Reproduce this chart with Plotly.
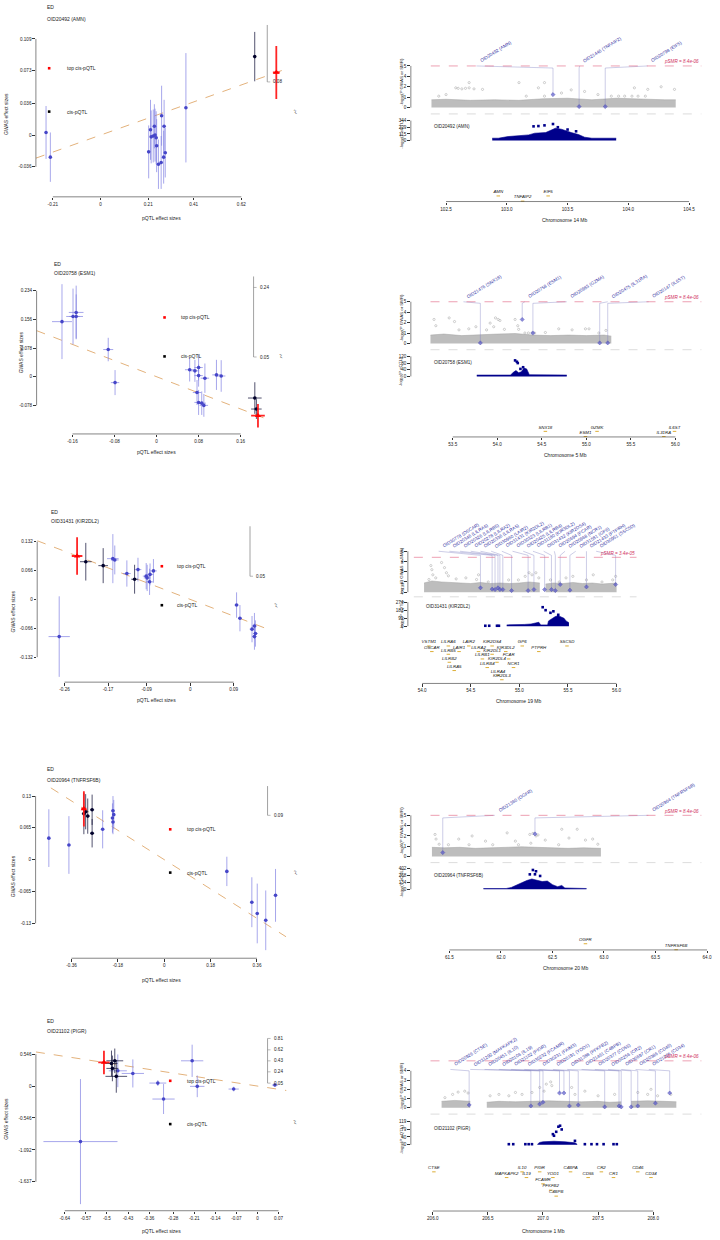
import plotly.graph_objects as go

# ---------------- left column: pQTL vs GWAS effect sizes ----------------
# kind: b = cis-pQTL (blue), k = cis-pQTL (black), r = top cis-pQTL
r1_oid = "OID20492 (AMN)"
r1_bzx = [-0.240, -0.221, 0.212, 0.220, 0.223, 0.232, 0.237, 0.240, 0.245, 0.247, 0.255, 0.267, 0.269, 0.278, 0.280, 0.285, 0.376, 0.679, 0.774]
r1_bzy = [0.003, -0.025, -0.019, 0.006, -0.002, -0.001, 0.010, 0.000, -0.003, -0.012, -0.033, -0.031, 0.022, -0.025, 0.010, -0.020, 0.031, 0.089, 0.071]
r1_sex = [0.004, 0.004, 0.004, 0.004, 0.004, 0.004, 0.004, 0.004, 0.004, 0.004, 0.004, 0.004, 0.004, 0.004, 0.004, 0.004, 0.004, 0.005, 0.015]
r1_sey = [0.030, 0.028, 0.030, 0.034, 0.030, 0.030, 0.025, 0.030, 0.030, 0.030, 0.028, 0.030, 0.034, 0.030, 0.030, 0.028, 0.062, 0.028, 0.030]
r1_kind = "bbbbbbbbbbbbbbbbbkr"
r1_xt = [-0.21, 0, 0.21, 0.41, 0.62]
r1_yt = [-0.036, 0, 0.036, 0.073, 0.109]
r1_r2 = ["0.08"]

r2_oid = "OID20758 (ESM1)"
r2_bzx = [-0.180, -0.159, -0.153, -0.153, -0.092, -0.079, 0.063, 0.073, 0.080, 0.080, 0.092, 0.114, 0.123, 0.077, 0.080, 0.086, 0.090, 0.187, 0.190, 0.193]
r2_bzy = [0.150, 0.164, 0.175, 0.164, 0.074, -0.016, 0.019, 0.016, 0.025, 0.003, -0.004, 0.005, 0.002, -0.043, -0.070, -0.072, -0.078, -0.058, -0.088, -0.106]
r2_sex = [0.019, 0.013, 0.014, 0.013, 0.0095, 0.008, 0.009, 0.008, 0.008, 0.008, 0.008, 0.008, 0.008, 0.008, 0.008, 0.008, 0.008, 0.013, 0.010, 0.013]
r2_sey = [0.102, 0.076, 0.073, 0.060, 0.032, 0.034, 0.032, 0.030, 0.035, 0.030, 0.040, 0.041, 0.043, 0.034, 0.034, 0.032, 0.031, 0.043, 0.027, 0.032]
r2_kind = "bbbbbbbbbbbbbbbbbkkr"
r2_xt = [-0.16, -0.08, 0, 0.08, 0.16]
r2_yt = [-0.078, 0, 0.078, 0.156, 0.234]
r2_r2 = ["0.24", "0.05"]

r3_oid = "OID31431 (KIR2DL2)"
r3_bzx = [-0.234, -0.216, -0.180, -0.160, -0.156, -0.131, -0.115, -0.108, -0.091, -0.089, -0.084, -0.083, -0.076, -0.271, 0.096, 0.103, 0.128, 0.133, 0.135, 0.133]
r3_bzy = [0.099, 0.086, 0.077, 0.093, 0.090, 0.059, 0.046, 0.068, 0.053, 0.049, 0.040, 0.057, 0.065, -0.085, -0.013, -0.043, -0.068, -0.061, -0.078, -0.085]
r3_sex = [0.011, 0.012, 0.010, 0.012, 0.008, 0.008, 0.007, 0.007, 0.007, 0.007, 0.007, 0.007, 0.007, 0.022, 0.004, 0.004, 0.005, 0.005, 0.005, 0.005]
r3_sey = [0.043, 0.043, 0.040, 0.056, 0.033, 0.030, 0.033, 0.027, 0.030, 0.030, 0.030, 0.025, 0.027, 0.092, 0.029, 0.030, 0.030, 0.030, 0.030, 0.030]
r3_kind = "rkkbbbkbbbbbbbbbbbbb"
r3_xt = [-0.26, -0.17, -0.09, 0, 0.09]
r3_yt = [-0.132, -0.066, 0, 0.066, 0.132]
r3_r2 = ["0.05"]

r4_oid = "OID20964 (TNFRSF6B)"
r4_bzx = [-0.448, -0.370, -0.312, -0.312, -0.305, -0.297, -0.280, -0.280, -0.239, -0.199, -0.201, -0.196, -0.199, 0.243, 0.340, 0.361, 0.394, 0.432]
r4_bzy = [0.044, 0.030, 0.104, 0.094, 0.098, 0.089, 0.102, 0.054, 0.062, 0.100, 0.085, 0.092, 0.077, -0.024, -0.087, -0.110, -0.124, -0.073]
r4_sex = [0.006, 0.006, 0.010, 0.008, 0.008, 0.008, 0.008, 0.008, 0.006, 0.006, 0.006, 0.006, 0.006, 0.006, 0.006, 0.006, 0.006, 0.006]
r4_sey = [0.059, 0.059, 0.036, 0.042, 0.036, 0.036, 0.031, 0.029, 0.039, 0.030, 0.030, 0.030, 0.025, 0.030, 0.051, 0.061, 0.061, 0.054]
r4_kind = "bbrkkkkkbbbbbbbbbb"
r4_xt = [-0.36, -0.18, 0, 0.18, 0.36]
r4_yt = [-0.13, -0.065, 0, 0.065, 0.13]
r4_r2 = ["0.09"]

r5_oid = "OID21102 (PIGR)"
r5_bzx = [-0.510, -0.485, -0.474, -0.482, -0.469, -0.464, -0.414, -0.588, -0.331, -0.312, -0.217, -0.200, -0.079, 0.058]
r5_bzy = [0.404, 0.387, 0.432, 0.302, 0.166, 0.261, 0.216, -0.950, 0.051, -0.222, 0.432, -0.005, -0.051, 0.017]
r5_sex = [0.019, 0.020, 0.028, 0.020, 0.036, 0.030, 0.037, 0.123, 0.028, 0.037, 0.037, 0.024, 0.017, 0.010]
r5_sey = [0.200, 0.220, 0.210, 0.220, 0.280, 0.280, 0.240, 1.070, 0.050, 0.256, 0.276, 0.185, 0.040, 0.030]
r5_kind = "rkkkkbbbbbbbbb"
r5_xt = [-0.64, -0.57, -0.5, -0.43, -0.36, -0.28, -0.21, -0.14, -0.07, 0, 0.07]
r5_yt = [-1.637, -1.092, -0.546, 0, 0.546]
r5_r2 = ["0.81", "0.62", "0.43", "0.24", "0.05"]

# ---------------- right column: locus plots ----------------
r1_chrom = "Chromosome 14 Mb"
r1_mb = [102.5, 103.0, 103.5, 104.0, 104.5]
r1_toplab = ["0", "1", "2", "4", "5"]
r1_thr = 4.0
r1_psmr = "pSMR = 8.4e-06"
r1_band_x = [102.38, 102.5, 102.7, 102.9, 103.1, 103.3, 103.5, 103.7, 103.9, 104.1, 104.3, 104.39]
r1_band_y = [0.75, 0.8, 0.7, 0.75, 0.7, 0.85, 0.9, 0.75, 0.9, 0.8, 0.75, 0.75]
r1_gw_x = [102.44, 102.5, 102.58, 102.6, 102.63, 102.66, 102.69, 102.69, 102.73, 102.8, 103.1, 103.16, 103.26, 103.31, 103.31, 103.45, 103.53, 103.64, 103.75, 103.86, 103.92, 103.97, 104.03, 104.05, 104.08, 104.14, 104.16, 104.27, 104.38]
r1_gw_y = [1.1, 1.25, 1.9, 1.85, 1.8, 1.85, 1.9, 2.4, 1.8, 1.75, 2.4, 1.1, 1.9, 1.1, 2.4, 1.4, 1.7, 1.55, 1.25, 1.1, 1.1, 1.1, 1.1, 1.9, 1.1, 1.1, 1.75, 2.0, 1.75]
r1_probes = ["OID20492 (AMN)", "OID21446 (TNFAIP2)", "OID20798 (EIF5)"]
r1_probe_bp = [103.38, 103.595, 103.81]
r1_probe_y = [1.25, 0.1, 0.1]
r1_label_bp = [102.75, 103.60, 104.16]
r1_eq_ticks = [0, 115, 229, 344]
r1_eq_x = [102.88, 102.93, 103.01, 103.10, 103.18, 103.23, 103.32, 103.40, 103.45, 103.53, 103.59, 103.64, 103.70, 103.90]
r1_eq_y = [41, 41, 69, 80, 98, 127, 138, 213, 195, 138, 104, 58, 41, 41]
r1_eqp_x = [103.22, 103.26, 103.31, 103.38, 103.42, 103.50, 103.57]
r1_eqp_y = [245, 250, 262, 285, 230, 190, 160]
r1_genes = ["AMN", "TNFAIP2", "EIF5"]
r1_gene_bp = [102.93, 103.13, 103.34]

r2_chrom = "Chromosome 5 Mb"
r2_mb = [53.5, 54.0, 54.5, 55.0, 55.5, 56.0]
r2_toplab = ["0", "1", "2", "4", "5"]
r2_thr = 4.0
r2_psmr = "pSMR = 8.4e-06"
r2_band_x = [53.25, 53.4, 53.6, 53.8, 54.0, 54.2, 54.4, 54.6, 54.8, 55.0, 55.2, 55.28]
r2_band_y = [0.8, 0.9, 0.75, 0.85, 0.9, 0.95, 0.8, 0.75, 0.8, 0.75, 0.8, 0.7]
r2_gw_x = [53.29, 53.31, 53.46, 53.52, 53.57, 53.68, 53.76, 53.88, 53.92, 53.96, 53.98, 54.01, 54.03, 54.08, 54.20, 54.23, 54.24, 54.31, 54.35, 54.39, 54.42, 54.54, 54.69, 54.84, 54.99, 55.03, 55.14, 55.22]
r2_gw_y = [2.3, 1.7, 2.45, 2.1, 1.3, 1.4, 1.6, 1.3, 1.95, 1.6, 2.45, 2.3, 2.2, 1.35, 2.3, 1.7, 1.35, 1.0, 1.0, 1.0, 1.0, 1.05, 1.4, 1.3, 1.4, 1.4, 1.0, 1.25]
r2_probes = ["OID21476 (SNX18)", "OID20758 (ESM1)", "OID20983 (GZMA)", "OID20475 (IL31RA)", "OID20147 (IL6ST)"]
r2_probe_bp = [53.81, 54.28, 54.40, 55.15, 55.24]
r2_probe_y = [0.05, 2.3, 1.0, 0.05, 0.05]
r2_label_bp = [53.62, 54.31, 54.78, 55.24, 55.70]
r2_eq_ticks = [0, 40, 80, 120]
r2_eq_x = [53.77, 54.15, 54.18, 54.21, 54.24, 54.27, 54.30, 54.33, 54.36, 54.78]
r2_eq_y = [8, 8, 25, 35, 22, 28, 50, 45, 10, 8]
r2_eqp_x = [54.20, 54.22, 54.23, 54.26, 54.29]
r2_eqp_y = [96, 88, 80, 45, 55]
r2_genes = ["SNX18", "ESM1", "GZMK", "IL31RA", "IL6ST"]
r2_gene_bp = [54.54, 54.99, 55.12, 55.87, 55.99]

r3_chrom = "Chromosome 19 Mb"
r3_mb = [54.0, 54.5, 55.0, 55.5, 56.0]
r3_toplab = ["0", "2", "3", "4", "6"]
r3_thr = 3.41
r3_psmr = "pSMR = 3.4e-05"
r3_band_x = [54.02, 54.1, 54.2, 54.3, 54.4, 54.5, 54.6, 54.7, 54.8, 54.9, 55.0, 55.1, 55.21, None, 55.27, 55.35, 55.45, 55.55, 55.65, 55.75, 55.85, 55.95, 56.0]
r3_band_y = [0.9, 1.1, 1.0, 0.95, 0.9, 0.85, 0.95, 0.85, 0.9, 0.85, 0.9, 1.0, 0.9, None, 0.8, 0.9, 0.85, 0.95, 0.85, 0.9, 0.8, 0.9, 0.9]
r3_gw_x = [54.07, 54.09, 54.10, 54.11, 54.14, 54.20, 54.23, 54.25, 54.27, 54.35, 54.45, 54.56, 54.58, 54.68, 54.89, 54.99, 55.06, 55.10, 55.13, 55.17, 55.20, 55.32, 55.41, 55.48, 55.55, 55.69, 55.76, 55.85, 55.96, 55.99]
r3_gw_y = [1.24, 2.6, 2.2, 1.7, 1.4, 2.9, 2.4, 1.9, 1.6, 1.3, 1.4, 1.24, 1.7, 1.0, 1.2, 1.2, 1.55, 1.9, 1.7, 1.9, 1.4, 1.2, 1.0, 1.4, 1.55, 1.2, 1.7, 1.0, 1.2, 1.55]
r3_probes = ["OID30778 (OSCAR)", "OID20346 (LILRA6)", "OID20326 (LILRB5)", "OID20278 (LILRA2)", "OID20336 (LILRA5)", "OID30960 (LAIR2)", "OID31431 (KIR2DL2)", "OID30323 (LILRB1)", "OID20425 (LILRB4)", "OID31180 (KIR3DL2)", "OID31432 (KIR2DS4)", "OID20694 (FCAR)", "OID20968 (NCR1)", "OID31581 (GP6)", "OID21433 (PTPRH)", "OID30951 (SSC5D)"]
r3_probe_bp = [54.60, 54.72, 54.75, 54.78, 54.80, 54.83, 54.92, 55.09, 55.15, 55.26, 55.33, 55.37, 55.42, 55.52, 55.69, 55.99]
r3_probe_y = [0.43, 0.3, 0.26, 0.43, 0.26, 0.26, 0.16, 0.16, 0.26, 0.26, 0.26, 0.16, 0.75, 0.2, 0.52, 0.75]
r3_label_bp = [54.17, 54.28, 54.39, 54.50, 54.60, 54.71, 54.82, 54.93, 55.04, 55.14, 55.25, 55.36, 55.47, 55.58, 55.69, 55.79]
r3_eq_ticks = [0, 91, 183, 274]
r3_eq_x = [54.87, 55.00, 55.05, 55.12, 55.17, 55.20, 55.22, 55.29, 55.30, 55.33, 55.37, 55.40, 55.43, 55.46, 55.48, 55.51]
r3_eq_y = [15, 15, 20, 25, 40, 45, 15, 15, 60, 80, 110, 120, 100, 90, 60, 40]
r3_eqp_x = [54.65, 54.69, 54.77, 54.79, 55.24, 55.27, 55.32, 55.35, 55.40]
r3_eqp_y = [5, 5, 5, 5, 217, 183, 153, 170, 130]
r3_genes = ["VSTM1", "OSCAR", "LILRA6", "LILRB5", "LAIR1", "LILRB2", "LILRA5", "LAIR2", "KIR2DS4", "LILRA2", "KIR3DL2", "KIR2DL1", "LILRB1", "KIR2DL4", "FCAR", "LILRB4", "NCR1", "LILRA4", "KIR2DL3", "GP6", "PTPRH", "SSC5D"]
r3_gene_bp = [54.07, 54.10, 54.27, 54.27, 54.38, 54.28, 54.33, 54.48, 54.72, 54.58, 54.86, 54.72, 54.62, 54.77, 54.89, 54.67, 54.94, 54.78, 54.82, 55.03, 55.20, 55.49]

r4_chrom = "Chromosome 20 Mb"
r4_mb = [61.5, 62.0, 62.5, 63.0, 63.5, 64.0]
r4_toplab = ["0", "1", "2", "4", "5"]
r4_thr = 4.0
r4_psmr = "pSMR = 8.4e-06"
r4_band_x = [61.33, 61.45, 61.6, 61.75, 61.9, 62.05, 62.2, 62.35, 62.5, 62.65, 62.8, 62.97]
r4_band_y = [0.9, 0.85, 0.9, 0.8, 0.85, 0.9, 0.95, 0.9, 0.85, 0.8, 0.85, 0.8]
r4_gw_x = [61.36, 61.37, 61.40, 61.49, 61.59, 61.69, 61.72, 61.85, 61.92, 62.06, 62.14, 62.17, 62.28, 62.29, 62.31, 62.34, 62.36, 62.43, 62.56, 62.59, 62.66, 62.74, 62.82, 62.89, 62.94]
r4_gw_y = [2.15, 1.7, 1.2, 1.15, 1.7, 1.15, 2.0, 1.5, 1.15, 2.3, 1.5, 1.15, 2.15, 1.3, 2.25, 2.0, 2.1, 1.6, 1.15, 2.65, 1.8, 2.65, 1.6, 1.7, 1.2]
r4_probes = ["OID21360 (OGFR)", "OID20964 (TNFRSF6B)"]
r4_probe_bp = [61.435, 62.33]
r4_probe_y = [0.39, 2.2]
r4_label_bp = [61.94, 63.43]
r4_eq_ticks = [0, 134, 268, 402]
r4_eq_x = [61.83, 62.05, 62.10, 62.15, 62.20, 62.25, 62.30, 62.35, 62.40, 62.45, 62.50, 62.55, 62.59, 62.62, 62.83]
r4_eq_y = [15, 15, 35, 80, 130, 170, 200, 180, 150, 160, 90, 50, 75, 25, 15]
r4_eqp_x = [62.28, 62.31, 62.33, 62.34, 62.38]
r4_eqp_y = [290, 375, 291, 350, 259]
r4_genes = ["OGFR", "TNFRSF6B"]
r4_gene_bp = [62.82, 63.70]

r5_chrom = "Chromosome 1 Mb"
r5_mb = [206.0, 206.5, 207.0, 207.5, 208.0]
r5_toplab = ["0", "1", "2", "3", "4"]
r5_thr = 5.08
r5_psmr = "pSMR = 8.4e-06"
r5_band_x = [206.08, 206.2, 206.34, None, 206.49, 206.6, 206.75, 206.9, 207.05, 207.2, 207.35, 207.5, 207.6, 207.71, None, 207.80, 207.95, 208.1, 208.21]
r5_band_y = [0.7, 0.8, 0.7, None, 0.6, 0.7, 0.65, 0.7, 0.75, 0.7, 0.65, 0.7, 0.6, 0.65, None, 0.7, 0.75, 0.7, 0.65]
r5_gw_x = [206.11, 206.18, 206.23, 206.29, 206.32, 206.52, 206.6, 206.69, 206.75, 206.81, 206.9, 206.97, 207.01, 207.03, 207.07, 207.08, 207.26, 207.29, 207.38, 207.5, 207.65, 207.86, 207.95, 207.98, 208.04, 208.16]
r5_gw_y = [1.1, 1.45, 1.7, 1.8, 1.6, 1.3, 1.45, 1.3, 1.66, 1.45, 1.66, 2.2, 1.8, 2.56, 2.8, 2.4, 2.2, 1.45, 1.8, 1.3, 1.45, 1.66, 1.45, 2.0, 1.3, 1.45]
r5_probes = ["OID20926 (CTSE)", "OID31292 (MAPKAPK2)", "OID20451 (IL10)", "OID20106 (IL19)", "OID21102 (PIGR)", "OID30232 (FCAMR)", "OID30231 (FAIM3)", "OID20191 (YOD1)", "OID31388 (PFKFB2)", "OID21461 (C4BPB)", "OID20377 (CD55)", "OID30256 (CR2)", "OID30697 (CR1)", "OID20386 (CD46)", "OID21025 (CD34)"]
r5_probe_bp = [206.33, 206.89, 206.97, 207.00, 207.15, 207.19, 207.24, 207.32, 207.56, 207.69, 207.71, 207.80, 207.86, 208.02, 208.15]
r5_probe_y = [0.3, 0.2, 0.4, 0.6, 1.6, 1.6, 0.2, 0.3, 0.1, 0.2, 0.1, 0.1, 0.2, 0.5, 1.6]
r5_label_bp = [206.16, 206.34, 206.47, 206.60, 206.71, 206.83, 206.96, 207.09, 207.22, 207.35, 207.47, 207.59, 207.71, 207.84, 207.96]
r5_eq_ticks = [0, 40, 79, 119]
r5_eq_x = [206.95, 206.97, 207.0, 207.1, 207.2, 207.29, 207.31]
r5_eq_y = [3, 12, 15, 18, 15, 10, 3]
r5_eqp_x = [206.69, 206.73, 206.84, 206.87, 206.90, 207.09, 207.10, 207.12, 207.14, 207.155, 207.17, 207.29, 207.38, 207.44, 207.49, 207.55, 207.64, 207.67]
r5_eqp_y = [3, 3, 3, 3, 3, 54, 46, 66, 92, 97, 78, 20, 3, 3, 3, 3, 3, 3]
r5_genes = ["CTSE", "IL10", "MAPKAPK2", "IL19", "PIGR", "YOD1", "FCAMR", "PFKFB2", "C4BPB", "C4BPA", "CD55", "CR2", "CR1", "CD46", "CD34"]
r5_gene_bp = [206.01, 206.81, 206.67, 206.85, 206.97, 207.09, 207.00, 207.07, 207.12, 207.25, 207.41, 207.53, 207.64, 207.86, 207.98]

# ---------------- page geometry (pixels) ----------------
W, H = 720, 1240
FONT = "Liberation Sans"

def fx(p):
    return p / W

def fy(p):
    return 1 - p / H

def span(v1, p1, v2, p2, a, b):
    # axis values sitting at pixels a and b, given two reference ticks
    s = (p2 - p1) / (v2 - v1)
    return [v1 + (a - p1) / s, v1 + (b - p1) / s]

LEFT = [
    dict(yax=36, right=288, bottom=197, top=22, xref=(-0.21, 53, 0.62, 242), yref=(0.109, 39, -0.036, 167),
         ed=(45, 7), oid=(45, 19), xtitle=(162, 218), ytitle=(6, 114), leg=[(49.3, 68.3), (49.3, 111.7)], legx=65,
         r2=(268, 25, 82), r2y=[82], r2sym=(290, 112)),
    dict(yax=36.7, right=271, bottom=434.3, top=278, xref=(-0.16, 72.7, 0.16, 241.3), yref=(0.234, 291, -0.078, 405.7),
         ed=(51.7, 264), oid=(51.7, 273.3), xtitle=(156.7, 452.7), ytitle=(20.7, 353), leg=[(165, 317.7), (165, 356.7)], legx=179,
         r2=(254.3, 276.7, 357.3), r2y=[287.7, 357.3], r2sym=(276, 356.7)),
    dict(yax=37.3, right=267, bottom=682.7, top=528, xref=(-0.26, 64.7, 0, 190.7), yref=(0.132, 542, -0.132, 657.7),
         ed=(49.3, 512), oid=(49.3, 521.7), xtitle=(156.7, 700.7), ytitle=(13.3, 611.7), leg=[(162.3, 566.7), (162.3, 605.7)], legx=175.7,
         r2=(250.7, 526.7, 576.7), r2y=[576.7], r2sym=(270.7, 605)),
    dict(yax=35.7, right=287, bottom=959, top=788, xref=(-0.36, 71.7, 0.36, 257.7), yref=(0.13, 796.7, -0.13, 924),
         ed=(45, 770), oid=(45, 780.7), xtitle=(161.7, 980.7), ytitle=(13.3, 876.7), leg=[(170.7, 830), (170.7, 873.3)], legx=185.7,
         r2=(268.3, 786.7, 816), r2y=[816], r2sym=(290, 873.3)),
    dict(yax=36, right=287.3, bottom=1211.7, top=1044, xref=(-0.64, 65, 0.07, 279.3), yref=(0.546, 1055, -1.637, 1182.7),
         ed=(45, 1021.7), oid=(45, 1032.3), xtitle=(161.7, 1231.7), ytitle=(5.7, 1120), leg=[(170.7, 1081.7), (170.7, 1125)], legx=185.7,
         r2=(268.3, 1039.3, 1084), r2y=[1039.3, 1050.7, 1061.7, 1072.7, 1084], r2sym=(290, 1123.3)),
]

RIGHT = [
    dict(yax=412, right=703.3, xref=(102.5, 447.3, 104.5, 691), gaxis=201.7, top=(107.7, 66), top_dom=(111, 30),
         eq=(140.7, 120.7), eq_dom=(143, 117), thr_x=(432, 703.3), sep=114, psmr_y=61.7, yt1=(403, 82), yt2=(403, 134),
         eqlab=(433, 127), xtitle=(567, 220), lab_y=4.0, conn_y=3.8, lift=[9.4, 4.2, 9.4]),
    dict(yax=412, right=703.3, xref=(53.5, 454, 56.0, 677.3), gaxis=437.3, top=(343.7, 302), top_dom=(347, 270),
         eq=(376.7, 356.7), eq_dom=(379, 353), thr_x=(431.7, 703.3), sep=350, psmr_y=297.7, yt1=(403, 318), yt2=(403, 371.7),
         eqlab=(433.3, 362.7), xtitle=(566.7, 455), lab_y=4.0, conn_y=3.85, lift=[9.4, 4.2, 9.4, 4.2, 9.4]),
    dict(yax=409, right=638.3, xref=(54.0, 423.3, 56.0, 618.3), gaxis=684, top=(592.7, 551.7), top_dom=(596, 520),
         eq=(626.7, 602.7), eq_dom=(629, 600), thr_x=(415, 638.3), sep=597.3, psmr_y=553.7, yt1=(403, 571.7), yt2=(403, 615),
         eqlab=(425, 607.3), xtitle=(520, 701.7), lab_y=4.0, conn_y=3.6,
         lift=[41.3, 35.7, 41.3, 33.0, 35.7, 25.0, 16.7, 41.3, 41.3, 35.7, 35.7, 33.0, 28.3, 25.0, 28.3, 19.7, 19.7, 12.0, 7.5, 41.3, 35.7, 41.3]),
    dict(yax=412, right=712, xref=(61.5, 450.7, 64.0, 709), gaxis=950.7, top=(857.3, 816), top_dom=(860, 780),
         eq=(890, 869.3), eq_dom=(892, 866), thr_x=(431.7, 703.3), sep=863.3, psmr_y=811.7, yt1=(402.7, 831.7), yt2=(403, 883.3),
         eqlab=(433.3, 876), xtitle=(568, 968.3), lab_y=4.0, conn_y=3.75, lift=[10, 4]),
    dict(yax=412, right=703.3, xref=(206.0, 434, 208.0, 655), gaxis=1212, top=(1108.7, 1071.7), top_dom=(1111, 1040),
         eq=(1145.7, 1122.3), eq_dom=(1148, 1119), thr_x=(431.7, 703.3), sep=1115, psmr_y=1057.7, yt1=(403.3, 1086.7), yt2=(403, 1140),
         eqlab=(433.3, 1129), xtitle=(545, 1232), lab_y=4.15, conn_y=4.0,
         lift=[43, 43, 37.3, 37.3, 43, 37.3, 31, 24.7, 18.7, 43, 37.3, 43, 37.3, 43, 37.3]),
]

fig = go.Figure()
shapes, notes, axes = [], [], {}

def aname(k, n):
    return f"{k}axis" if n == 1 else f"{k}axis{n}"

def aref(k, n):
    return k if n == 1 else f"{k}{n}"

def ticked(**kw):
    d = dict(showgrid=False, zeroline=False, showline=False, ticks="outside", ticklen=2.5,
             tickwidth=0.6, tickcolor="#333", tickangle=0, tickmode="array", fixedrange=True,
             tickfont=dict(family=FONT, size=4.6, color="#222"))
    d.update(kw)
    return d

def note(x, y, s, size=5, anchor="left", color="#222", angle=0):
    notes.append(dict(x=fx(x), y=fy(y), xref="paper", yref="paper", text=s, showarrow=False,
                      xanchor=anchor, yanchor="middle", textangle=angle,
                      font=dict(family=FONT, size=size, color=color)))

def seg(x0, y0, x1, y1, color, width=0.6, dash="solid"):
    shapes.append(dict(type="line", xref="paper", yref="paper", x0=fx(x0), y0=fy(y0), x1=fx(x1), y1=fy(y1),
                       line=dict(color=color, width=width, dash=dash)))

STYLE = {"b": ("#4646C8", "rgba(125,125,225,0.85)", 0.8, "circle", 3.6),
         "k": ("#00002A", "rgba(15,15,55,0.9)", 0.8, "circle", 3.6),
         "r": ("#FF0000", "rgba(255,25,25,0.95)", 1.8, "triangle-up", 5.5)}

def left_panel(xn, yn, P, oid, bzx, bzy, sex, sey, kind, xt, yt, r2lab):
    xa, ya = aref("x", xn), aref("y", yn)
    xr = span(*P["xref"], P["yax"], P["right"])
    yr = span(*P["yref"], P["bottom"], P["top"])
    axes[aname("x", xn)] = ticked(domain=[fx(P["yax"]), fx(P["right"])], range=xr, anchor=ya,
                                  tickvals=xt, ticktext=[f"{v:g}" for v in xt])
    axes[aname("y", yn)] = ticked(domain=[fy(P["bottom"]), fy(P["top"])], range=yr, anchor=xa,
                                  tickvals=yt, ticktext=[f"{v:g}" for v in yt])
    top = kind.index("r")
    slope = bzy[top] / bzx[top]
    fig.add_trace(go.Scatter(x=xr, y=[slope * v for v in xr], mode="lines", xaxis=xa, yaxis=ya,
                             line=dict(color="#E3B27C", width=1, dash="dash")))
    for k in "bkr":
        idx = [i for i, c in enumerate(kind) if c == k]
        mc, ec, ew, sym, ms = STYLE[k]
        fig.add_trace(go.Scatter(
            x=[bzx[i] for i in idx], y=[bzy[i] for i in idx], mode="markers", xaxis=xa, yaxis=ya,
            marker=dict(color=mc, size=ms, symbol=sym, line=dict(width=0)),
            error_x=dict(type="data", array=[sex[i] for i in idx], color=ec, thickness=ew, width=0),
            error_y=dict(type="data", array=[sey[i] for i in idx], color=ec, thickness=ew, width=0)))
    shapes.append(dict(type="line", xref=xa, yref=f"{ya} domain", x0=xt[0], x1=xt[-1], y0=0, y1=0,
                       line=dict(color="#333", width=0.6)))
    shapes.append(dict(type="line", xref=f"{xa} domain", yref=ya, x0=0, x1=0, y0=yt[0], y1=yt[-1],
                       line=dict(color="#333", width=0.6)))
    note(*P["ed"], "ED")
    note(*P["oid"], oid)
    note(*P["xtitle"], "pQTL effect sizes", anchor="center")
    note(*P["ytitle"], "GWAS effect sizes", anchor="center", angle=-90)
    for (lx, ly), col, lab in zip(P["leg"], ["#FF0000", "#000000"], ["top cis-pQTL", "cis-pQTL"]):
        shapes.append(dict(type="rect", xref="paper", yref="paper", x0=fx(lx - 1.3), x1=fx(lx + 1.3),
                           y0=fy(ly + 1.3), y1=fy(ly - 1.3), fillcolor=col, line=dict(width=0)))
        note(P["legx"], ly, lab)
    bx, b0, b1 = P["r2"]
    seg(bx, b0, bx, b1, "#8A8A8A", 0.8)
    for yy, lab in zip(P["r2y"], r2lab):
        seg(bx, yy, bx + 3, yy, "#8A8A8A", 0.6)
        note(bx + 4, yy, lab, size=4.6)
    note(*P["r2sym"], "r<sup>2</sup>", size=4.6, angle=-60)


def split_none(xs, ys):
    out, cx, cy = [], [], []
    for x, y in zip(xs, ys):
        if x is None:
            out.append((cx, cy))
            cx, cy = [], []
        else:
            cx.append(x)
            cy.append(y)
    out.append((cx, cy))
    return out


def right_panel(xn, yg, ye, yk, P, D):
    xa, ga, ea, ka = aref("x", xn), aref("y", yg), aref("y", ye), aref("y", yk)
    xr = span(*P["xref"], P["yax"], P["right"])
    axes[aname("x", xn)] = ticked(domain=[fx(P["yax"]), fx(P["right"])], range=xr, anchor=ka,
                                  tickvals=D["mb"], ticktext=[f"{v:.1f}" for v in D["mb"]])
    gb = P["gaxis"]
    axes[aname("y", yk)] = dict(domain=[fy(gb), fy(gb - 48)], range=[0, 48], visible=False,
                                fixedrange=True, anchor=xa)
    p0, p4 = P["top"]
    tb, tt = P["top_dom"]
    axes[aname("y", yg)] = ticked(domain=[fy(tb), fy(tt)], range=span(0, p0, 4, p4, tb, tt), anchor=xa,
                                  tickvals=[0, 1, 2, 3, 4], ticktext=D["toplab"])
    e0, em = P["eq"]
    eb, et = P["eq_dom"]
    emax = D["eq_ticks"][-1]
    axes[aname("y", ye)] = ticked(domain=[fy(eb), fy(et)], range=span(0, e0, emax, em, eb, et), anchor=xa,
                                  tickvals=D["eq_ticks"], ticktext=[str(v) for v in D["eq_ticks"]])

    # GWAS cloud
    for sx, sy in split_none(D["band_x"], D["band_y"]):
        fig.add_trace(go.Scatter(x=sx, y=sy, mode="lines", fill="tozeroy", xaxis=xa, yaxis=ga,
                                 fillcolor="rgba(172,172,172,0.8)", line=dict(color="#A3A3A3", width=0.5)))
    fig.add_trace(go.Scatter(x=D["gw_x"], y=D["gw_y"], mode="markers", xaxis=xa, yaxis=ga, cliponaxis=False,
                             marker=dict(symbol="circle-open", size=2.2, color="#A0A0A0", line=dict(width=0.5))))
    # SMR probes and their label connectors
    cx, cy = [], []
    for lb, pb, pv in zip(D["label_bp"], D["probe_bp"], D["probe_y"]):
        cx += [lb, pb, pb, None]
        cy += [P["lab_y"], P["conn_y"], pv, None]
    fig.add_trace(go.Scatter(x=cx, y=cy, mode="lines", xaxis=xa, yaxis=ga,
                             line=dict(color="rgba(120,120,190,0.75)", width=0.5)))
    fig.add_trace(go.Scatter(x=D["probe_bp"], y=D["probe_y"], mode="markers", xaxis=xa, yaxis=ga, cliponaxis=False,
                             marker=dict(symbol="diamond", size=3.2, color="rgba(80,80,200,0.65)",
                                         line=dict(color="#4848B0", width=0.4))))
    for lb, name in zip(D["label_bp"], D["probes"]):
        notes.append(dict(x=lb, y=P["lab_y"], xref=xa, yref=ga, text=name, showarrow=False,
                          xanchor="left", yanchor="bottom", textangle=-32,
                          font=dict(family=FONT, size=4.6, color="#3333A3")))
    t0, t1 = P["thr_x"]
    shapes.append(dict(type="line", xref="paper", yref=ga, x0=fx(t0), x1=fx(t1), y0=D["thr"], y1=D["thr"],
                       line=dict(color="#E0607E", width=0.6, dash="dash")))
    note(t1, P["psmr_y"], f"<i>{D['psmr']}</i>", size=4.6, anchor="right", color="#D03060")
    seg(t0, P["sep"], t1, P["sep"], "#C4C4C4", 0.6, "dash")

    # eQTL panel
    fig.add_trace(go.Scatter(x=D["eq_x"], y=D["eq_y"], mode="lines", fill="tozeroy", xaxis=xa, yaxis=ea,
                             fillcolor="#00008B", line=dict(color="#00008B", width=0.6)))
    fig.add_trace(go.Scatter(x=D["eqp_x"], y=D["eqp_y"], mode="markers", xaxis=xa, yaxis=ea, cliponaxis=False,
                             marker=dict(symbol="square", size=2.6, color="#00008B")))

    # gene track
    lifts = P["lift"]
    fig.add_trace(go.Scatter(x=D["gene_bp"], y=[h - 3.8 for h in lifts], mode="markers", xaxis=xa, yaxis=ka,
                             cliponaxis=False,
                             marker=dict(symbol="line-ew", size=2.5, line=dict(color="#D9A520", width=0.9))))
    fig.add_trace(go.Scatter(x=D["gene_bp"], y=lifts, mode="text", xaxis=xa, yaxis=ka, cliponaxis=False,
                             text=[f"<i>{g}</i>" for g in D["genes"]], textposition="middle center",
                             textfont=dict(family=FONT, size=4.4, color="#111")))

    # axis lines spanning first..last tick
    mb = D["mb"]
    shapes.append(dict(type="line", xref=xa, yref=f"{ka} domain", x0=mb[0], x1=mb[-1], y0=0, y1=0,
                       line=dict(color="#333", width=0.6)))
    shapes.append(dict(type="line", xref=f"{xa} domain", yref=ga, x0=0, x1=0, y0=0, y1=4,
                       line=dict(color="#333", width=0.6)))
    shapes.append(dict(type="line", xref=f"{xa} domain", yref=ea, x0=0, x1=0, y0=0, y1=emax,
                       line=dict(color="#333", width=0.6)))
    note(*P["yt1"], "-log<sub>10</sub>(<i>P</i> GWAS or SMR)", size=4.4, anchor="center", angle=-90)
    note(*P["yt2"], "-log<sub>10</sub>(<i>P</i> eQTL)", size=4.4, anchor="center", angle=-90)
    note(*P["eqlab"], D["oid"], size=4.6)
    note(*P["xtitle"], D["chrom"], anchor="center")


g = globals()
for i in range(5):
    p = f"r{i + 1}_"
    left_panel(2 * i + 1, 4 * i + 1, LEFT[i], g[p + "oid"], g[p + "bzx"], g[p + "bzy"], g[p + "sex"],
               g[p + "sey"], g[p + "kind"], g[p + "xt"], g[p + "yt"], g[p + "r2"])

for i in range(5):
    p = f"r{i + 1}_"
    D = {k: g[p + k] for k in ["chrom", "mb", "toplab", "thr", "psmr", "band_x", "band_y", "gw_x", "gw_y",
                              "probes", "probe_bp", "probe_y", "label_bp", "eq_ticks", "eq_x", "eq_y",
                              "eqp_x", "eqp_y", "genes", "gene_bp", "oid"]}
    right_panel(2 * i + 2, 4 * i + 2, 4 * i + 3, 4 * i + 4, RIGHT[i], D)

fig.update_layout(width=W, height=H, margin=dict(l=0, r=0, t=0, b=0), paper_bgcolor="white",
                  plot_bgcolor="white", showlegend=False, font=dict(family=FONT, color="#222"),
                  shapes=shapes, annotations=notes, **axes)
# the page's default body margin would push the 720x1240 figure off by 8px
fig.write_html("out.html", config={"displayModeBar": False},
               post_script="document.body.style.margin='0';document.body.style.overflow='hidden';")
